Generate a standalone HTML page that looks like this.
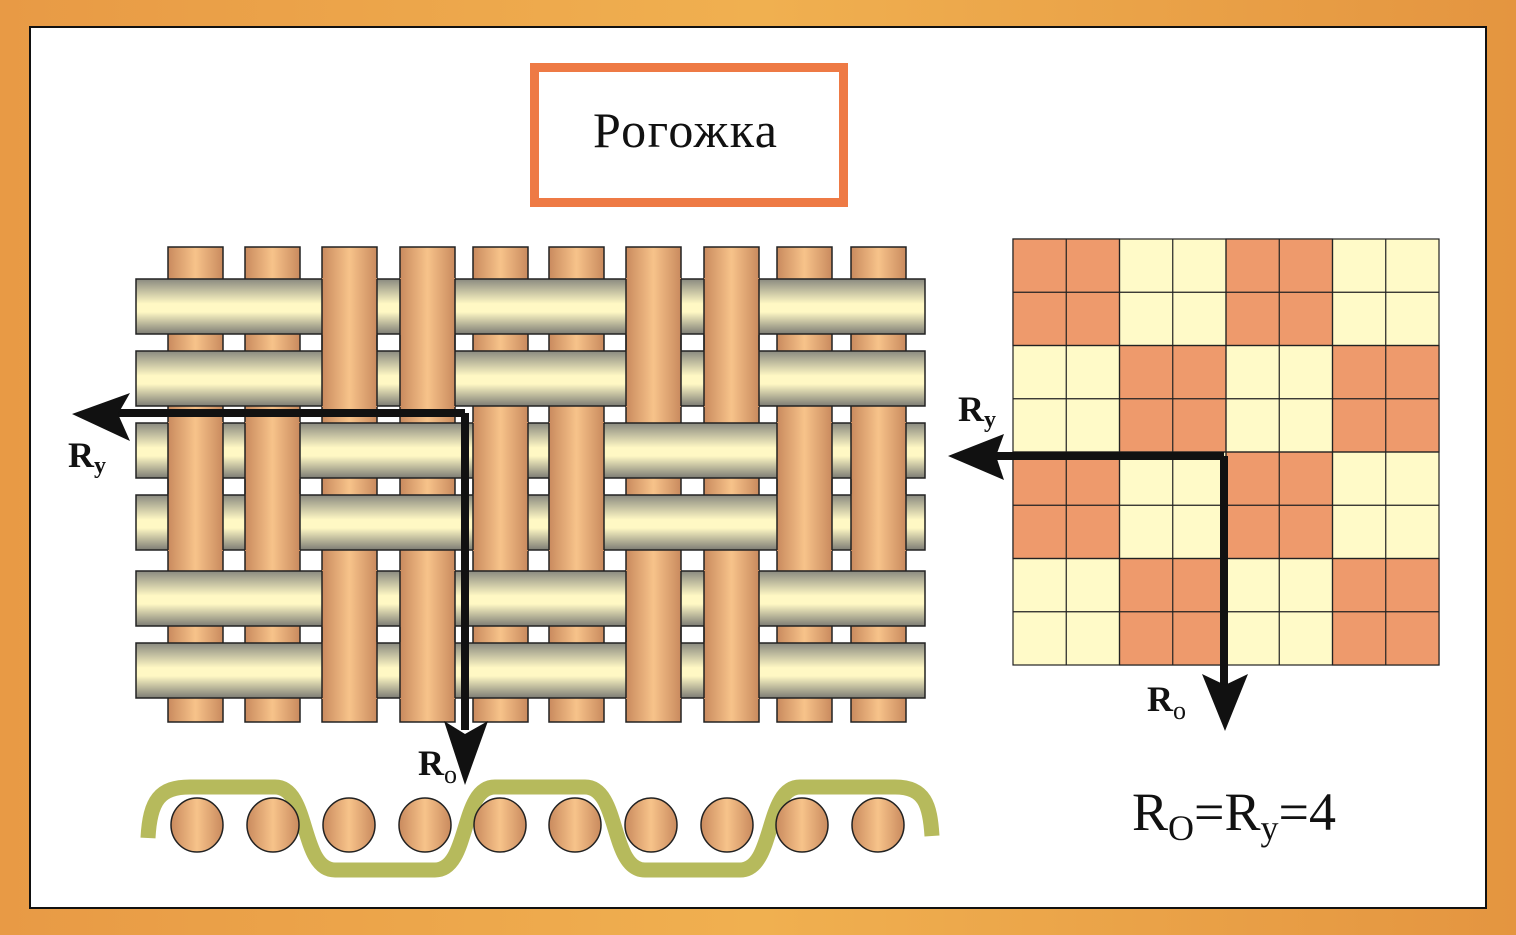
<!DOCTYPE html>
<html><head><meta charset="utf-8"><style>html,body{margin:0;padding:0;}svg{display:block}</style></head><body>
<svg width="1516" height="935" xmlns="http://www.w3.org/2000/svg" font-family="Liberation Serif, serif">
<defs>
<linearGradient id="wp" x1="0" x2="1" y1="0" y2="0"><stop offset="0" stop-color="#c98a5e"/><stop offset="0.5" stop-color="#f7c38a"/><stop offset="1" stop-color="#c98a5e"/></linearGradient>
<linearGradient id="wf" x1="0" x2="0" y1="0" y2="1"><stop offset="0" stop-color="#8a8a80"/><stop offset="0.45" stop-color="#fff8c4"/><stop offset="0.6" stop-color="#fff8c4"/><stop offset="1" stop-color="#7d7d75"/></linearGradient>
<linearGradient id="fr" x1="0" x2="1" y1="0" y2="0"><stop offset="0" stop-color="#e89a45"/><stop offset="0.5" stop-color="#f0b050"/><stop offset="1" stop-color="#e49540"/></linearGradient>
</defs>
<rect width="1516" height="935" fill="url(#fr)"/>
<rect x="30" y="27" width="1456" height="881" fill="#fff" stroke="#111" stroke-width="2"/>
<rect x="534.5" y="67.5" width="309" height="135" fill="#fff" stroke="#ee7a45" stroke-width="9"/>
<text x="593" y="147" font-size="50" fill="#111" textLength="184" lengthAdjust="spacing">Рогожка</text>
<g stroke="#222" stroke-width="1.5" fill="url(#wp)">
<rect x="168" y="247" width="55" height="475"/><rect x="245" y="247" width="55" height="475"/><rect x="322" y="247" width="55" height="475"/><rect x="400" y="247" width="55" height="475"/><rect x="473" y="247" width="55" height="475"/><rect x="549" y="247" width="55" height="475"/><rect x="626" y="247" width="55" height="475"/><rect x="704" y="247" width="55" height="475"/><rect x="777" y="247" width="55" height="475"/><rect x="851" y="247" width="55" height="475"/>
</g>
<g stroke="#222" stroke-width="1.5" fill="url(#wf)">
<rect x="136" y="279" width="789" height="55"/><rect x="136" y="351" width="789" height="55"/><rect x="136" y="423" width="789" height="55"/><rect x="136" y="495" width="789" height="55"/><rect x="136" y="571" width="789" height="55"/><rect x="136" y="643" width="789" height="55"/>
</g>
<g fill="url(#wp)" stroke="none">
<rect x="322" y="278" width="55" height="57"/><rect x="400" y="278" width="55" height="57"/><rect x="626" y="278" width="55" height="57"/><rect x="704" y="278" width="55" height="57"/>
<rect x="322" y="350" width="55" height="57"/><rect x="400" y="350" width="55" height="57"/><rect x="626" y="350" width="55" height="57"/><rect x="704" y="350" width="55" height="57"/>
<rect x="168" y="422" width="55" height="57"/><rect x="245" y="422" width="55" height="57"/><rect x="473" y="422" width="55" height="57"/><rect x="549" y="422" width="55" height="57"/><rect x="777" y="422" width="55" height="57"/><rect x="851" y="422" width="55" height="57"/>
<rect x="168" y="494" width="55" height="57"/><rect x="245" y="494" width="55" height="57"/><rect x="473" y="494" width="55" height="57"/><rect x="549" y="494" width="55" height="57"/><rect x="777" y="494" width="55" height="57"/><rect x="851" y="494" width="55" height="57"/>
<rect x="322" y="570" width="55" height="57"/><rect x="400" y="570" width="55" height="57"/><rect x="626" y="570" width="55" height="57"/><rect x="704" y="570" width="55" height="57"/>
<rect x="322" y="642" width="55" height="57"/><rect x="400" y="642" width="55" height="57"/><rect x="626" y="642" width="55" height="57"/><rect x="704" y="642" width="55" height="57"/>
</g>
<g stroke="#222" stroke-width="1.5">
<path d="M322 279V406M377 279V406M400 279V406M455 279V406M626 279V406M681 279V406M704 279V406M759 279V406"/>
<path d="M168 423V550M223 423V550M245 423V550M300 423V550M473 423V550M528 423V550M549 423V550M604 423V550M777 423V550M832 423V550M851 423V550M906 423V550"/>
<path d="M322 571V698M377 571V698M400 571V698M455 571V698M626 571V698M681 571V698M704 571V698M759 571V698"/>
</g>
<path d="M465 413H110M465 413V730" stroke="#111" stroke-width="8" fill="none"/>
<polygon points="72,414 130,393 118,414 130,441" fill="#111"/>
<polygon points="465,785 444,721 465,734 488,721" fill="#111"/>
<text x="68" y="467" font-size="36" font-weight="bold" fill="#111">R<tspan font-size="24" dy="6">у</tspan></text>
<text x="418" y="775" font-size="36" font-weight="bold" fill="#111">R<tspan font-size="26" dy="8" font-weight="normal">o</tspan></text>
<path d="M148 838 C150 800 160 787 190 787 H275 C310 787 300 870 335 870 H435 C470 870 460 787 495 787 H585 C620 787 610 870 645 870 H740 C775 870 765 787 800 787 H895 C925 787 930 805 932 836" stroke="#b6ba5c" stroke-width="15" fill="none"/>
<g fill="url(#wp)" stroke="#222" stroke-width="1.5">
<ellipse cx="197" cy="825" rx="26" ry="27"/><ellipse cx="273" cy="825" rx="26" ry="27"/><ellipse cx="349" cy="825" rx="26" ry="27"/><ellipse cx="425" cy="825" rx="26" ry="27"/><ellipse cx="500" cy="825" rx="26" ry="27"/><ellipse cx="575" cy="825" rx="26" ry="27"/><ellipse cx="651" cy="825" rx="26" ry="27"/><ellipse cx="727" cy="825" rx="26" ry="27"/><ellipse cx="802" cy="825" rx="26" ry="27"/><ellipse cx="878" cy="825" rx="26" ry="27"/>
</g>
<g stroke="#222" stroke-width="1.2">
<rect x="1013" y="239" width="426" height="426" fill="#fffac8"/>
<g fill="#ee9a6c">
<rect x="1013" y="239" width="106.5" height="106.5"/><rect x="1226" y="239" width="106.5" height="106.5"/>
<rect x="1119.5" y="345.5" width="106.5" height="106.5"/><rect x="1332.5" y="345.5" width="106.5" height="106.5"/>
<rect x="1013" y="452" width="106.5" height="106.5"/><rect x="1226" y="452" width="106.5" height="106.5"/>
<rect x="1119.5" y="558.5" width="106.5" height="106.5"/><rect x="1332.5" y="558.5" width="106.5" height="106.5"/>
</g>
<path d="M1066.25 239V665M1119.5 239V665M1172.75 239V665M1226 239V665M1279.25 239V665M1332.5 239V665M1385.75 239V665M1013 292.25H1439M1013 345.5H1439M1013 398.75H1439M1013 452H1439M1013 505.25H1439M1013 558.5H1439M1013 611.75H1439" fill="none"/>
</g>
<path d="M1224 456H990M1224 456V690" stroke="#111" stroke-width="8" fill="none"/>
<polygon points="948,456 1004,434 996,456 1004,480" fill="#111"/>
<polygon points="1225,731 1202,674 1225,685 1248,674" fill="#111"/>
<text x="958" y="421" font-size="36" font-weight="bold" fill="#111">R<tspan font-size="24" dy="6">у</tspan></text>
<text x="1147" y="711" font-size="36" font-weight="bold" fill="#111">R<tspan font-size="26" dy="8" font-weight="normal">o</tspan></text>
<text x="1132" y="830" font-size="54" fill="#111">R<tspan font-size="36" dy="10">O</tspan><tspan dy="-10">=R</tspan><tspan font-size="36" dy="10">у</tspan><tspan dy="-10">=4</tspan></text>
</svg>
</body></html>
